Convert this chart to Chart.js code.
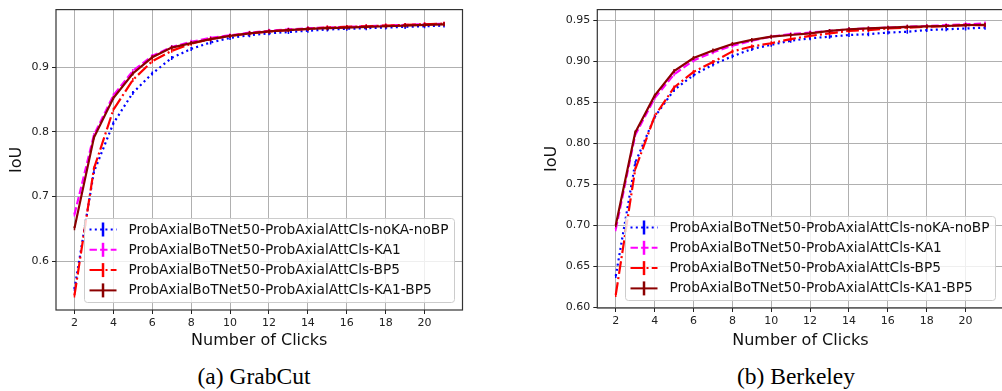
<!DOCTYPE html>
<html>
<head>
<meta charset="utf-8">
<script src="https://cdn.jsdelivr.net/npm/chart.js@4.4.1/dist/chart.umd.min.js"></script>
<style>
  html, body { margin: 0; padding: 0; background: #fff; overflow: hidden; width: 1002px; height: 391px; }
  canvas { position: absolute; top: 0; }
  #grabcutChart { left: 0; }
  #berkeleyChart { left: 535px; }
  .caption { position: absolute; top: 363px; width: 300px; line-height: 27px; text-align: center;
             font-family: "Liberation Serif", serif; font-size: 23.5px; color: #000; }
</style>
</head>
<body>
<canvas id="grabcutChart" width="468" height="355"></canvas>
<canvas id="berkeleyChart" width="474" height="355"></canvas>
<div class="caption" style="left:104px">(a) GrabCut</div>
<div class="caption" style="left:646px">(b) Berkeley</div>

<script>
// number of clicks on the x axis
const clicks = [2, 3, 4, 5, 6, 7, 8, 9, 10, 11, 12, 13, 14, 15, 16, 17, 18, 19, 20, 21];

const seriesNames = [
  'ProbAxialBoTNet50-ProbAxialAttCls-noKA-noBP',
  'ProbAxialBoTNet50-ProbAxialAttCls-KA1',
  'ProbAxialBoTNet50-ProbAxialAttCls-BP5',
  'ProbAxialBoTNet50-ProbAxialAttCls-KA1-BP5'
];

// (a) GrabCut IoU per click
const grabcutNoKANoBP = [0.557, 0.738, 0.813, 0.860, 0.890, 0.914, 0.928, 0.938, 0.945, 0.949,
                         0.952, 0.954, 0.956, 0.958, 0.959, 0.960, 0.961, 0.962, 0.963, 0.964];
const grabcutKA1      = [0.672, 0.795, 0.856, 0.894, 0.917, 0.931, 0.939, 0.945, 0.949, 0.953,
                         0.956, 0.958, 0.960, 0.961, 0.962, 0.963, 0.964, 0.965, 0.966, 0.967];
const grabcutBP5      = [0.547, 0.743, 0.834, 0.880, 0.909, 0.925, 0.936, 0.943, 0.948, 0.952,
                         0.955, 0.957, 0.959, 0.961, 0.962, 0.963, 0.964, 0.965, 0.966, 0.967];
const grabcutKA1BP5   = [0.651, 0.791, 0.852, 0.890, 0.915, 0.930, 0.937, 0.943, 0.948, 0.952,
                         0.955, 0.957, 0.959, 0.960, 0.961, 0.962, 0.963, 0.964, 0.965, 0.966];

// (b) Berkeley IoU per click
const berkeleyNoKANoBP = [0.638, 0.776, 0.832, 0.865, 0.883, 0.896, 0.906, 0.915, 0.920, 0.925,
                          0.928, 0.930, 0.932, 0.933, 0.935, 0.936, 0.938, 0.939, 0.940, 0.941];
const berkeleyKA1      = [0.695, 0.810, 0.855, 0.884, 0.901, 0.911, 0.919, 0.925, 0.930, 0.933,
                          0.935, 0.937, 0.939, 0.940, 0.941, 0.942, 0.943, 0.944, 0.945, 0.946];
const berkeleyBP5      = [0.615, 0.768, 0.833, 0.868, 0.887, 0.899, 0.912, 0.918, 0.922, 0.927,
                          0.931, 0.934, 0.937, 0.938, 0.940, 0.941, 0.942, 0.943, 0.944, 0.944];
const berkeleyKA1BP5   = [0.700, 0.813, 0.858, 0.888, 0.904, 0.913, 0.921, 0.926, 0.930, 0.932,
                          0.934, 0.937, 0.939, 0.940, 0.941, 0.942, 0.9425, 0.943, 0.944, 0.9445];

const xTicks = [2, 4, 6, 8, 10, 12, 14, 16, 18, 20];

// line looks, same order as seriesNames (matplotlib ':', '--', '-.', '-')
const lineColors = ['#0000ff', '#ff00ff', '#ff0000', '#8b0000'];
const lineDashes = [[2, 3.3], [7.4, 3.2], [12.8, 3.2, 2, 3.2], []];

const fontSans = '"DejaVu Sans", sans-serif';

// draws the axes frame and a matplotlib style legend in the lower right corner
const frameAndLegend = {
  id: 'frameAndLegend',
  afterDraw(chart) {
    const ctx = chart.ctx;
    const area = chart.chartArea;
    ctx.save();
    ctx.strokeStyle = '#333';
    ctx.lineWidth = 1.2;
    ctx.setLineDash([]);
    ctx.strokeRect(area.left, area.top, area.right - area.left, area.bottom - area.top);

    ctx.font = '13.7px ' + fontSans;
    const sets = chart.data.datasets;
    let textW = 0;
    sets.forEach(ds => { textW = Math.max(textW, ctx.measureText(ds.label).width); });
    const boxW = 44 + textW + 6;
    const boxH = 84;
    const bx = area.right - 8 - boxW;
    const by = area.bottom - 7.5 - boxH;
    const r = 3;
    ctx.beginPath();
    ctx.moveTo(bx + r, by);
    ctx.arcTo(bx + boxW, by, bx + boxW, by + boxH, r);
    ctx.arcTo(bx + boxW, by + boxH, bx, by + boxH, r);
    ctx.arcTo(bx, by + boxH, bx, by, r);
    ctx.arcTo(bx, by, bx + boxW, by, r);
    ctx.closePath();
    ctx.fillStyle = 'rgba(255,255,255,0.8)';
    ctx.fill();
    ctx.strokeStyle = '#cccccc';
    ctx.lineWidth = 1;
    ctx.stroke();

    sets.forEach((ds, i) => {
      const cy = by + 11 + i * 20.3;
      ctx.strokeStyle = ds.borderColor;
      ctx.lineWidth = 2;
      ctx.setLineDash(ds.borderDash);
      ctx.beginPath();
      ctx.moveTo(bx + 5, cy);
      ctx.lineTo(bx + 32, cy);
      ctx.stroke();
      // error bar mark in the handle
      ctx.setLineDash([]);
      ctx.lineWidth = 2.5;
      ctx.beginPath();
      ctx.moveTo(bx + 18.5, cy - 7);
      ctx.lineTo(bx + 18.5, cy + 7);
      ctx.stroke();
      ctx.fillStyle = '#111';
      ctx.textBaseline = 'middle';
      ctx.textAlign = 'left';
      ctx.fillText(ds.label, bx + 44, cy + 0.5);
    });
    ctx.restore();
  }
};

function makeChart(canvasId, seriesValues, yMin, yMax, yStep, yDecimals, yAxisWidth, xAxisHeight) {
  const datasets = seriesValues.map((vals, i) => ({
    label: seriesNames[i],
    data: clicks.map((c, k) => ({ x: c, y: vals[k] })),
    borderColor: lineColors[i],
    backgroundColor: lineColors[i],
    borderDash: lineDashes[i],
    borderWidth: 2.2,
    tension: 0,
    fill: false,
    pointStyle: 'line',
    rotation: 90,
    pointRadius: 2,
    pointBorderWidth: 1.5,
    pointBorderColor: lineColors[i],
    order: 3 - i   // last series drawn on top, as in the original
  }));

  const axisFont = { family: fontSans, size: 11 };
  const titleFont = { family: fontSans, size: 16 };

  return new Chart(document.getElementById(canvasId), {
    type: 'line',
    data: { datasets: datasets },
    options: {
      responsive: false,
      animation: false,
      layout: { padding: { top: 5, right: 2, left: 0, bottom: 0 } },
      plugins: { legend: { display: false }, tooltip: { enabled: false } },
      scales: {
        x: {
          type: 'linear',
          min: 1.05,
          max: 21.95,
          afterBuildTicks: s => { s.ticks = xTicks.map(v => ({ value: v })); },
          afterFit: s => { s.height = xAxisHeight; },
          grid: { color: '#b0b0b0', lineWidth: 1, tickLength: 4, tickColor: '#222' },
          border: { display: false },
          ticks: { font: axisFont, color: '#222', padding: 3, autoSkip: false, maxRotation: 0 },
          title: { display: true, text: 'Number of Clicks', font: titleFont, color: '#111',
                   padding: { top: 0, bottom: 5 } }
        },
        y: {
          min: yMin,
          max: yMax,
          afterFit: s => { s.width = yAxisWidth; },
          grid: { color: '#b0b0b0', lineWidth: 1, tickLength: 4, tickColor: '#222' },
          border: { display: false },
          ticks: { stepSize: yStep, includeBounds: false, autoSkip: false, font: axisFont, color: '#222',
                   padding: 3, callback: v => Number(v).toFixed(yDecimals) },
          title: { display: true, text: 'IoU', font: titleFont, color: '#111',
                   padding: { top: 7, bottom: 0 } }
        }
      }
    },
    plugins: [frameAndLegend]
  });
}

makeChart('grabcutChart', [grabcutNoKANoBP, grabcutKA1, grabcutBP5, grabcutKA1BP5],
          0.5245, 0.9887, 0.1, 1, 56, 45);
makeChart('berkeleyChart', [berkeleyNoKANoBP, berkeleyKA1, berkeleyBP5, berkeleyKA1BP5],
          0.599, 0.963, 0.05, 2, 62.3, 47);
</script>
</body>
</html>
